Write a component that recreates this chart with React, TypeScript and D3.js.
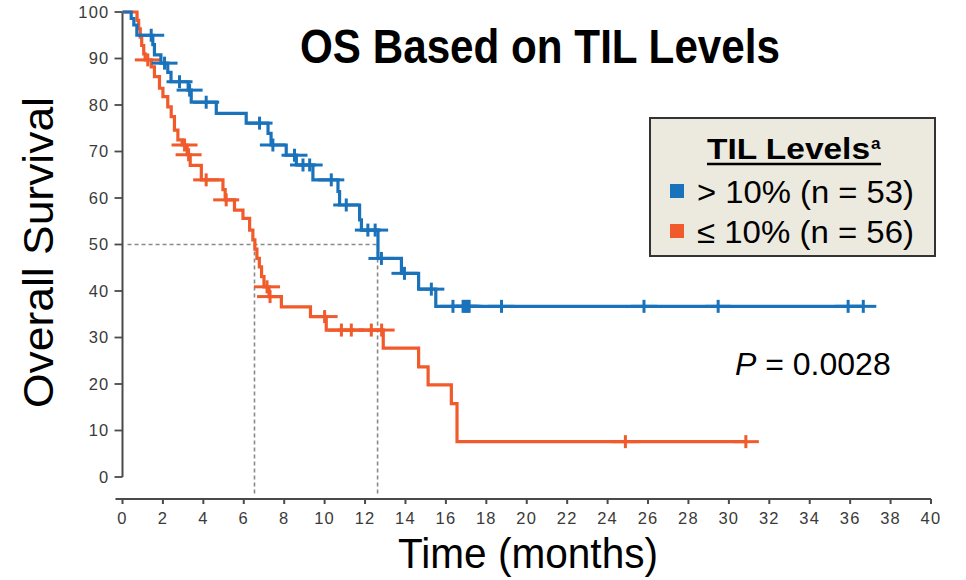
import React from "react";
import * as d3 from "d3";

// ---- Data ----
const xTickValues = [0, 2, 4, 6, 8, 10, 12, 14, 16, 18, 20, 22, 24, 26, 28, 30, 32, 34, 36, 38, 40];
const yTickValues = [0, 10, 20, 30, 40, 50, 60, 70, 80, 90, 100];

// > 10% TIL (blue): event times (months) and survival (%) after each event
const highTimes = [0, 0.43, 0.56, 0.71, 1.5, 1.58, 1.9, 2.24, 2.4, 3.25, 3.4, 4.64, 6.12, 7.2, 7.35, 8.1, 8.6, 9.42, 10.66, 10.74, 11.73, 11.82, 12.64, 13.8, 14.65, 15.5];
const highSurv = [100, 98.6, 97.2, 95.0, 93.0, 90.8, 89.0, 87.0, 85.0, 83.2, 80.6, 78.2, 76.1, 73.9, 71.4, 69.2, 67.1, 63.9, 61.4, 58.5, 55.3, 53.1, 47.0, 43.8, 40.4, 36.7];
const highCensor = [1.42, 2.08, 2.82, 3.32, 4.14, 6.78, 7.44, 8.51, 8.93, 9.26, 10.33, 11.07, 12.14, 12.5, 12.81, 13.95, 15.28, 16.35, 16.85, 16.95, 17.05, 17.15, 18.75, 25.8, 29.47, 35.9, 36.65];

// <= 10% TIL (orange)
const lowTimes = [0, 0.72, 0.8, 0.88, 0.95, 1.05, 1.12, 1.42, 1.58, 1.83, 2.0, 2.24, 2.41, 2.57, 2.74, 2.95, 3.2, 3.35, 3.9, 4.97, 5.08, 5.54, 5.96, 6.29, 6.45, 6.55, 6.65, 6.77, 6.88, 7.0, 7.25, 7.86, 9.3, 10.08, 12.9, 14.65, 15.12, 16.27, 16.55];
const lowSurv = [100, 98.2, 96.4, 94.6, 92.8, 91.0, 89.7, 88.2, 86.1, 83.6, 81.8, 79.6, 77.5, 74.6, 72.5, 71.4, 69.3, 67.0, 63.9, 61.8, 59.6, 57.4, 55.6, 53.1, 51.0, 49.0, 47.0, 45.2, 43.1, 40.9, 38.8, 36.6, 34.5, 31.6, 27.7, 23.7, 19.8, 15.8, 7.6];
const lowCensor = [1.25, 3.07, 3.27, 4.14, 5.13, 7.15, 7.3, 10.0, 10.83, 11.32, 12.31, 12.82, 24.88, 30.84];

const medianTimes = [6.53, 12.62];
const medianLevel = 50;
const medianStart = 0.25;

const seriesLabels = ["> 10% (n = 53)", "\u2264 10% (n = 56)"];
const seriesColors = ["#1a72bb", "#f15a2b"];

function survAt(times: number[], surv: number[], t: number) {
  let s = surv[0];
  for (let i = 0; i < times.length; i++) if (times[i] <= t) s = surv[i];
  return s;
}

export default function App() {
  const W = 966;
  const H = 580;
  const x = d3.scaleLinear().domain([0, 40]).range([122.5, 931]);
  const y = d3.scaleLinear().domain([0, 100]).range([477, 12]);
  const xAxisY = 499;
  const font = "'Liberation Sans', Arial, Helvetica, sans-serif";
  const axisColor = "#4a4a4a";

  const series = [
    { times: lowTimes, surv: lowSurv, censor: lowCensor, color: seriesColors[1] },
    { times: highTimes, surv: highSurv, censor: highCensor, color: seriesColors[0] },
  ];

  const line = d3
    .line<[number, number]>()
    .x((d) => x(d[0]))
    .y((d) => y(d[1]))
    .curve(d3.curveStepAfter);

  return (
    <svg width={W} height={H} style={{ position: "absolute", left: 0, top: 0, background: "#fff" }} fontFamily={font}>
      {/* median dashed lines */}
      <g stroke="#8a8a8a" strokeWidth={1.6} strokeDasharray="4 3" fill="none">
        <line x1={x(medianStart)} x2={x(d3.max(medianTimes) as number)} y1={y(medianLevel)} y2={y(medianLevel)} />
        {medianTimes.map((m, i) => (
          <line key={i} x1={x(m)} x2={x(m)} y1={y(medianLevel)} y2={xAxisY - 3} />
        ))}
      </g>

      {/* y axis */}
      <g>
        <line x1={x(0)} x2={x(0)} y1={y(100)} y2={y(0)} stroke={axisColor} strokeWidth={2} />
        {yTickValues.map((v) => (
          <g key={v}>
            <line x1={x(0) - 8} x2={x(0)} y1={y(v)} y2={y(v)} stroke={axisColor} strokeWidth={1.8} />
            <text x={x(0) - 13} y={y(v) + 5.5} textAnchor="end" fontSize={16.5} fill="#3a3a3a" letterSpacing={1.2}>
              {v}
            </text>
          </g>
        ))}
      </g>

      {/* x axis */}
      <g>
        <line x1={x(0) - 7} x2={x(40)} y1={xAxisY} y2={xAxisY} stroke={axisColor} strokeWidth={2} />
        {xTickValues.map((v) => (
          <g key={v}>
            <line x1={x(v)} x2={x(v)} y1={xAxisY} y2={xAxisY + 5} stroke={axisColor} strokeWidth={2} />
            <text x={x(v)} y={xAxisY + 25} textAnchor="middle" fontSize={16.5} fill="#3a3a3a" letterSpacing={1.2}>
              {v}
            </text>
          </g>
        ))}
      </g>

      {/* curves */}
      {series.map((s, si) => {
        const end = Math.max(d3.max(s.censor) as number, d3.max(s.times) as number);
        const pts: [number, number][] = s.times.map((t, i) => [t, s.surv[i]] as [number, number]);
        pts.push([end, s.surv[s.surv.length - 1]]);
        return (
          <g key={si}>
            <path d={line(pts) || ""} fill="none" stroke={s.color} strokeWidth={3.2} strokeLinejoin="miter" />
            {s.censor.map((c, ci) => {
              const cy = y(survAt(s.times, s.surv, c));
              const cx = x(c);
              return (
                <g key={ci} stroke={s.color} strokeWidth={3}>
                  <line x1={cx - 13} x2={cx + 13} y1={cy} y2={cy} />
                  <line x1={cx} x2={cx} y1={cy - 6.5} y2={cy + 6.5} />
                </g>
              );
            })}
          </g>
        );
      })}

      {/* title */}
      <text x={540} y={63} textAnchor="middle" fontSize={48} fontWeight="bold" fill="#000" textLength={480} lengthAdjust="spacingAndGlyphs">
        OS Based on TIL Levels
      </text>

      {/* axis titles */}
      <text
        transform={`translate(53,252.5) rotate(-90)`}
        textAnchor="middle"
        fontSize={42}
        fill="#000"
        textLength={311}
        lengthAdjust="spacingAndGlyphs"
      >
        Overall Survival
      </text>
      <text x={528} y={568} textAnchor="middle" fontSize={42} fill="#000" textLength={260} lengthAdjust="spacingAndGlyphs">
        Time (months)
      </text>

      {/* legend */}
      <g>
        <rect x={650} y={118} width={285} height={138} fill="#ece9df" stroke="#333" strokeWidth={2} />
        <text x={707} y={159} fontSize={30} fontWeight="bold" fill="#000" textLength={163} lengthAdjust="spacingAndGlyphs">
          TIL Levels
        </text>
        <text x={871} y={149} fontSize={17} fontWeight="bold" fill="#000">
          a
        </text>
        <line x1={707} x2={881} y1={164} y2={164} stroke="#000" strokeWidth={2.5} />
        {seriesLabels.map((lab, i) => (
          <g key={i}>
            <rect x={670} y={184 + i * 40} width={14} height={14} fill={seriesColors[i]} />
            <text x={697} y={203 + i * 39.5} fontSize={32} fill="#000" textLength={217} lengthAdjust="spacingAndGlyphs">
              {lab}
            </text>
          </g>
        ))}
      </g>

      {/* p value */}
      <text x={735} y={375} fontSize={32} fill="#000">
        <tspan fontStyle="italic">P</tspan>
        <tspan> = 0.0028</tspan>
      </text>
    </svg>
  );
}
